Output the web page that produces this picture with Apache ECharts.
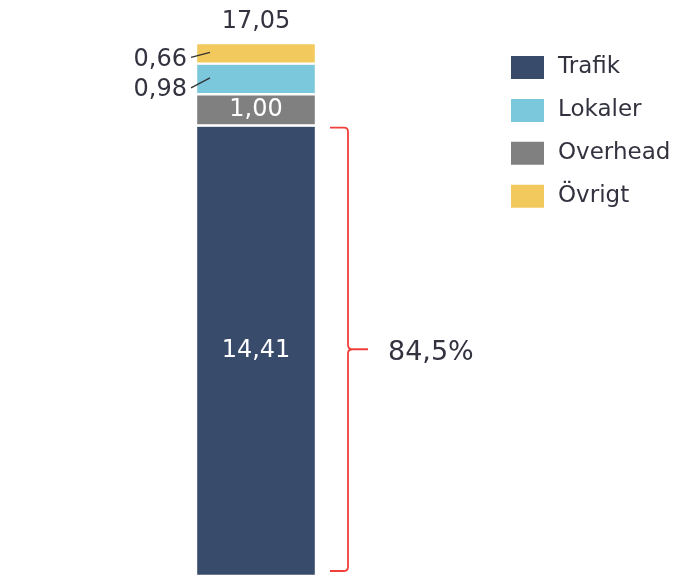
<!DOCTYPE html>
<html>
<head>
<meta charset="utf-8">
<script src="https://cdn.jsdelivr.net/npm/echarts@6/dist/echarts.min.js"></script>
<style>
  html, body { margin: 0; padding: 0; background: #fff; }
  #chart { width: 677px; height: 576px; }
</style>
</head>
<body>
<div id="chart"></div>
<script>
// data
const categories = ['Kostnad']
const seriesNames = ['Trafik', 'Overhead', 'Lokaler', 'Övrigt'] // stacking order, bottom -> top
const legendOrder = ['Trafik', 'Lokaler', 'Overhead', 'Övrigt']
const trafik = [14.41]
const overhead = [1.00]
const lokaler = [0.98]
const ovrigt = [0.66]
const total = [17.05]
const shareLabel = ['84,5%']

const fmt = (v) => v.toFixed(2).replace('.', ',')
const font = 'DejaVu Sans'
const textColor = '#333340'
const colors = {
  Trafik: '#384b6b',
  Overhead: '#808080',
  Lokaler: '#7bc7dc',
  Övrigt: '#f2c95c',
}
const values = { Trafik: trafik, Overhead: overhead, Lokaler: lokaler, Övrigt: ovrigt }

const chart = echarts.init(document.getElementById('chart'))

const barSeries = seriesNames.map((name) => {
  const inside = name === 'Trafik' || name === 'Overhead'
  return {
    name: name,
    type: 'bar',
    stack: 'cost',
    barWidth: '100%',
    data: values[name],
    itemStyle: {
      color: colors[name],
      borderColor: '#fff',
      borderWidth: 1.2,
    },
    label: {
      show: inside,
      position: 'inside',
      color: '#fff',
      fontFamily: font,
      fontSize: 24,
      formatter: (p) => fmt(p.value),
    },
    emphasis: { disabled: true },
  }
})

// total on top of the stack
barSeries.push({
  name: 'Total',
  type: 'bar',
  stack: 'cost',
  data: categories.map(() => 0),
  itemStyle: { color: 'transparent' },
  label: {
    show: true,
    position: 'top',
    distance: 9,
    color: textColor,
    fontFamily: font,
    fontSize: 24,
    formatter: (p) => fmt(total[p.dataIndex]),
  },
})

// leader labels for small segments (value at segment middle)
const base = trafik[0] + overhead[0]
const leaderData = [
  { value: [0, base + lokaler[0] + ovrigt[0] / 2], txt: fmt(ovrigt[0]), dy: 6 },
  { value: [0, base + lokaler[0] / 2], txt: fmt(lokaler[0]), dy: 11 },
]

const leaderSeries = {
  type: 'custom',
  silent: true,
  z: 10,
  data: leaderData,
  renderItem: (params, api) => {
    const p = api.coord([api.value(0), api.value(1)])
    const half = api.size([1, 0])[0] / 2
    const left = p[0] - half
    const d = leaderData[params.dataIndex]
    return {
      type: 'group',
      children: [
        {
          type: 'line',
          z2: 10,
          shape: { x1: left + 14, y1: p[1] - 1, x2: left - 5, y2: p[1] + d.dy - 2 },
          style: { stroke: '#333', lineWidth: 1.3 },
        },
        {
          type: 'text',
          style: {
            x: left - 9,
            y: p[1] + d.dy,
            text: d.txt,
            textAlign: 'right',
            textVerticalAlign: 'middle',
            fill: textColor,
            font: '24px ' + font,
          },
        },
      ],
    }
  },
}

// brace next to Trafik
const braceSeries = {
  type: 'custom',
  silent: true,
  z: 10,
  data: [[0, trafik[0]]],
  renderItem: (params, api) => {
    const top = api.coord([api.value(0), api.value(1)])
    const bot = api.coord([api.value(0), 0])
    const half = api.size([1, 0])[0] / 2
    const x0 = top[0] + half + 14
    const x1 = x0 + 18
    const y0 = top[1] + 2
    const y1 = bot[1] - 5
    const ym = (y0 + y1) / 2
    const r = 4
    const path =
      `M${x0},${y0} L${x1 - r},${y0} Q${x1},${y0} ${x1},${y0 + r} ` +
      `L${x1},${ym - 4} Q${x1},${ym} ${x1 + 5},${ym} L${x1 + 20},${ym} ` +
      `M${x1 + 5},${ym} Q${x1},${ym} ${x1},${ym + 4} ` +
      `L${x1},${y1 - r} Q${x1},${y1} ${x1 - r},${y1} L${x0},${y1}`
    return {
      type: 'group',
      children: [
        {
          type: 'path',
          shape: { pathData: path },
          style: { stroke: '#f0403a', lineWidth: 1.8, fill: null },
        },
        {
          type: 'text',
          style: {
            x: x1 + 40,
            y: ym + 4,
            text: shareLabel[0],
            textVerticalAlign: 'middle',
            fill: textColor,
            font: '27px ' + font,
          },
        },
      ],
    }
  },
}

chart.setOption({
  animation: false,
  grid: { left: 196, width: 120, top: 43, bottom: 0 },
  legend: {
    orient: 'vertical',
    left: 504,
    top: 49,
    data: legendOrder,
    itemWidth: 35,
    itemHeight: 25,
    itemGap: 15.9,
    icon: 'rect',
    textStyle: { color: textColor, fontFamily: font, fontSize: 23, lineHeight: 25, padding: [0, 0, 0, 8] },
    selectedMode: false,
  },
  xAxis: {
    type: 'category',
    data: categories,
    show: false,
  },
  yAxis: {
    type: 'value',
    min: 0,
    max: total[0],
    show: false,
  },
  series: [...barSeries, leaderSeries, braceSeries],
})
</script>
</body>
</html>
